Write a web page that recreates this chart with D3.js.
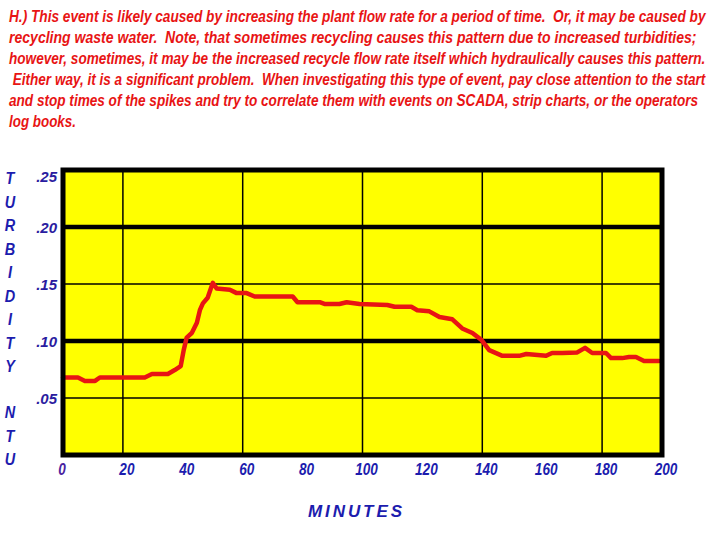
<!DOCTYPE html>
<html>
<head>
<meta charset="utf-8">
<script src="https://cdn.jsdelivr.net/npm/d3@7"></script>
<style>
  body { margin: 0; background: #fff; }
  text { font-family: "Liberation Sans Narrow", "Arial Narrow", "Liberation Sans", Arial, sans-serif; font-weight: bold; font-style: italic; }
</style>
</head>
<body>
<div id="chart"></div>
<script>
// turbidity trace (minutes, NTU)
var minutes = [0, 5, 7.3, 10.7, 12.3, 27.3, 29.7, 35, 37.3, 39.3, 40.3, 41.3, 43, 44.7, 45.7, 46.7, 48.3, 50,
               51.3, 55.7, 58, 61.3, 64, 76.7, 78.3, 85.7, 87.3, 92.3, 94.7, 99, 108.3, 110.7, 116.3, 118.3,
               122.3, 125.7, 130, 133.3, 136.7, 139.7, 142.3, 146.7, 152.3, 154.7, 161.3, 163.3, 166.7,
               171.7, 174.3, 176.7, 181.3, 183, 186.7, 189, 191.3, 194, 199];
var turbidity = [0.068, 0.068, 0.065, 0.065, 0.068, 0.068, 0.071, 0.071, 0.0745, 0.078, 0.092, 0.103, 0.107,
                 0.116, 0.127, 0.133, 0.138, 0.151, 0.146, 0.145, 0.142, 0.142, 0.139, 0.139, 0.134, 0.134,
                 0.1325, 0.1325, 0.134, 0.1325, 0.1316, 0.130, 0.130, 0.127, 0.126, 0.121, 0.119, 0.111,
                 0.107, 0.101, 0.092, 0.087, 0.087, 0.0886, 0.087, 0.0895, 0.0895, 0.090, 0.094, 0.0895,
                 0.0895, 0.085, 0.085, 0.086, 0.086, 0.0825, 0.0825];

var xTicks = [0, 20, 40, 60, 80, 100, 120, 140, 160, 180, 200];
var xGrid = [20, 60, 100, 140, 180];
var yTicks = [0.05, 0.10, 0.15, 0.20, 0.25];
var yTickLabels = [".05", ".10", ".15", ".20", ".25"];
var yGrid = [0.05, 0.10, 0.15, 0.20];
var yHeavy = [0.10, 0.20];

var yTitleTop = "TURBIDITY".split("");
var yTitleBottom = "NTU".split("");
var xTitle = "MINUTES";

var noteLines = [
    "H.) This event is likely caused by increasing the plant flow rate for a period of time.  Or, it may be caused by",
    "recycling waste water.  Note, that sometimes recycling causes this pattern due to increased turbidities;",
    "however, sometimes, it may be the increased recycle flow rate itself which hydraulically causes this pattern.",
    " Either way, it is a significant problem.  When investigating this type of event, pay close attention to the start",
    "and stop times of the spikes and try to correlate them with events on SCADA, strip charts, or the operators",
    "log books."
];
var noteWidths = [697, 688, 697, 697, 690, 67];

var w = 720,
    h = 540,
    blue = "#1c1cae",
    red = "#e81414";

var x = d3.scaleLinear().domain([0, 200]).range([63, 662]);
var y = d3.scaleLinear().domain([0, 0.25]).range([455, 170]);

var svg = d3.select("#chart").append("svg")
    .attr("width", w)
    .attr("height", h);

// note at the top, each line squeezed to the width it has in the picture
var notes = svg.append("g").selectAll("text")
    .data(noteLines)
    .enter().append("text")
    .attr("fill", red)
    .attr("font-size", 16)
    .attr("xml:space", "preserve")
    .text(function (d) { return d; });

notes.each(function (d, i) {
    var natural = this.getComputedTextLength();
    var k = Math.min(1, noteWidths[i] / natural);
    d3.select(this).attr("transform",
        "translate(9," + (22 + i * 21) + ") scale(" + k + ",1)");
});

// plot background
svg.append("rect")
    .attr("x", x(0)).attr("y", y(0.25))
    .attr("width", x(200) - x(0)).attr("height", y(0) - y(0.25))
    .attr("fill", "#ffff00");

// grid
svg.append("g").selectAll("line")
    .data(xGrid)
    .enter().append("line")
    .attr("x1", function (d) { return x(d); })
    .attr("x2", function (d) { return x(d); })
    .attr("y1", y(0.25)).attr("y2", y(0))
    .attr("stroke", "#000").attr("stroke-width", 1.5);

svg.append("g").selectAll("line")
    .data(yGrid)
    .enter().append("line")
    .attr("x1", x(0)).attr("x2", x(200))
    .attr("y1", function (d) { return y(d); })
    .attr("y2", function (d) { return y(d); })
    .attr("stroke", "#000")
    .attr("stroke-width", function (d) { return yHeavy.indexOf(d) >= 0 ? 4.5 : 1.5; });

// trace
var line = d3.line()
    .x(function (d) { return x(d[0]); })
    .y(function (d) { return y(d[1]); });

svg.append("path")
    .datum(d3.zip(minutes, turbidity))
    .attr("d", line)
    .attr("fill", "none")
    .attr("stroke", red)
    .attr("stroke-width", 4.5)
    .attr("stroke-linejoin", "round")
    .attr("stroke-linecap", "round");

// frame
svg.append("rect")
    .attr("x", x(0)).attr("y", y(0.25))
    .attr("width", x(200) - x(0)).attr("height", y(0) - y(0.25))
    .attr("fill", "none")
    .attr("stroke", "#000")
    .attr("stroke-width", 5);

// tick labels
svg.append("g").selectAll("text")
    .data(yTicks)
    .enter().append("text")
    .attr("x", 57)
    .attr("y", function (d) { return y(d) + (d == 0.25 ? 12 : 6); })
    .attr("text-anchor", "end")
    .attr("fill", "#2a1ca0")
    .attr("font-size", 15)
    .text(function (d, i) { return yTickLabels[i]; });

svg.append("g").selectAll("text")
    .data(xTicks)
    .enter().append("text")
    .attr("transform", function (d) {
        return "translate(" + (d == 0 ? x(d) - 1 : x(d) + 4) + ",475) scale(0.85,1)";
    })
    .attr("text-anchor", "middle")
    .attr("fill", function (d) { return d == 0 ? "#4a22a0" : blue; })
    .attr("font-size", 16)
    .text(function (d) { return d; });

// axis titles
svg.append("g").selectAll("text")
    .data(yTitleTop)
    .enter().append("text")
    .attr("transform", function (d, i) { return "translate(10," + (184 + i * 23.5) + ") scale(0.85,1)"; })
    .attr("text-anchor", "middle")
    .attr("fill", blue)
    .attr("font-size", 17)
    .text(function (d) { return d; });

svg.append("g").selectAll("text")
    .data(yTitleBottom)
    .enter().append("text")
    .attr("transform", function (d, i) { return "translate(10," + (418 + i * 23.5) + ") scale(0.85,1)"; })
    .attr("text-anchor", "middle")
    .attr("fill", blue)
    .attr("font-size", 17)
    .text(function (d) { return d; });

svg.append("text")
    .attr("x", 308)
    .attr("y", 517)
    .attr("fill", blue)
    .attr("font-size", 17)
    .attr("textLength", 94)
    .attr("lengthAdjust", "spacing")
    .text(xTitle);
</script>
</body>
</html>
